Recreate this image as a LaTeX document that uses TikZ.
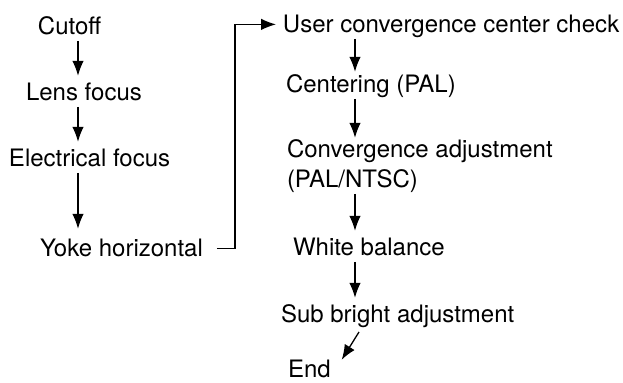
\documentclass[tikz,border=0pt]{standalone}
\usepackage{fontspec}
\setmainfont{TeX Gyre Heros}
\usepackage{tikz}
\usetikzlibrary{arrows.meta}
\tikzstyle{stage} = [anchor=base west, inner sep=0pt, outer sep=0pt, text height=8.6pt, text depth=0pt, font=\fontsize{12}{14}\selectfont]
\tikzstyle{arrow} = [line width=0.65pt, -{Latex[length=7.5pt,width=5.8pt]}, shorten <=3pt, shorten >=4pt]

\begin{document}
\begin{tikzpicture}[x=0.5pt, y=-0.5pt]
        \useasboundingbox (0,0) rectangle (623,383);
        \coordinate (lx) at (78,0);
        \coordinate (rx) at (355,0);
        \coordinate (jx) at (235,0);

        % left column
        \node (cutoff) [stage] at (38,35) {Cutoff};
        \node (lens) [stage] at (26,101) {Lens focus};
        \node (elec) [stage] at (9,167) {Electrical focus};
        \node (yoke) [stage] at (40,257) {Yoke horizontal};

        % right column
        \node (user) [stage] at (283,33) {User convergence center check};
        \node (centering) [stage] at (286,93) {Centering (PAL)};
        \node (conv) [stage] at (287,158) {Convergence adjustment};
        \node (ntsc) [stage] at (287,188) {(PAL/NTSC)};
        \node (white) [stage] at (293,256) {White balance};
        \node (sub) [stage] at (281,323) {Sub bright adjustment};
        \node (stop) [stage] at (288,378) {End};

        \draw [arrow] (lx |- cutoff.south) -- (lx |- lens.north);
        \draw [arrow] (lx |- lens.south) -- (lx |- elec.north);
        \draw [arrow, shorten >=5.5pt] (lx |- elec.south) -- (lx |- yoke.north);

        \draw [arrow, shorten <=7pt, shorten >=3.5pt] (yoke.east) -- (yoke.east -| jx) |- (user.west);

        \draw [arrow, shorten >=2pt] (rx |- user.south) -- (rx |- centering.north);
        \draw [arrow, shorten >=1.5pt] (rx |- centering.south) -- (rx |- conv.north);
        \draw [arrow] (rx |- ntsc.south) -- (rx |- white.north);
        \draw [arrow] (rx |- white.south) -- (rx |- sub.north);
        \draw [arrow, shorten <=0pt, shorten >=0pt] ([shift={(78,9)}]sub.south west) -- ([shift={(11,-1)}]stop.north east);
    \end{tikzpicture}
\end{document}
